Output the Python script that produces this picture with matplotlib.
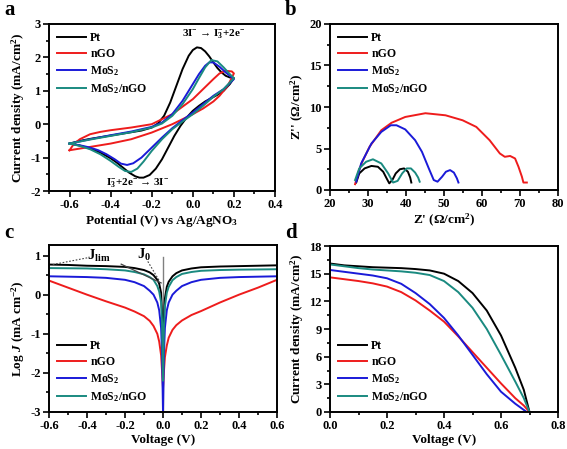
import numpy as np
import matplotlib
matplotlib.use("Agg")
import matplotlib.pyplot as plt
from matplotlib.ticker import MultipleLocator

plt.rcParams['font.family'] = ['Liberation Serif', 'DejaVu Serif']
plt.rcParams['font.weight'] = 'bold'
plt.rcParams['axes.labelweight'] = 'bold'
plt.rcParams['mathtext.fontset'] = 'custom'
plt.rcParams['mathtext.rm'] = 'Liberation Serif:bold'
plt.rcParams['mathtext.bf'] = 'Liberation Serif:bold'
plt.rcParams['mathtext.it'] = 'Liberation Serif:italic:bold'

names = ['Pt', 'nGO', 'MoS$_2$', 'MoS$_2$/nGO']
colors = ['black', '#ee1c1c', '#1a1ad8', '#1a8a80']

# (a) cyclic voltammetry, each loop: forward branch then reverse branch
cv_pt_x = [-0.6, -0.55, -0.5, -0.45, -0.4, -0.35, -0.3, -0.25, -0.2, -0.17, -0.14, -0.11, -0.08, -0.05, -0.02,
           0.0, 0.02, 0.04, 0.06, 0.08, 0.1, 0.12, 0.14, 0.16, 0.18, 0.2,
           0.18, 0.15, 0.12, 0.09, 0.06, 0.03, 0.0, -0.03, -0.06, -0.09, -0.12, -0.15, -0.18, -0.21, -0.24,
           -0.26, -0.28, -0.31, -0.34, -0.37, -0.4, -0.45, -0.5, -0.55, -0.6]
cv_pt_y = [-0.58, -0.5, -0.44, -0.39, -0.34, -0.29, -0.24, -0.19, -0.1, 0.02, 0.25, 0.65, 1.15, 1.65, 2.05,
           2.22, 2.3, 2.28, 2.18, 2.03, 1.85, 1.68, 1.55, 1.45, 1.4, 1.38,
           1.2, 1.0, 0.88, 0.78, 0.68, 0.55, 0.4, 0.2, -0.05, -0.35, -0.7, -1.05, -1.33, -1.52, -1.6,
           -1.6, -1.56, -1.45, -1.3, -1.15, -1.02, -0.85, -0.73, -0.64, -0.58]
cv_ngo_x = [-0.6, -0.58, -0.55, -0.5, -0.45, -0.4, -0.3, -0.2, -0.1, 0.0, 0.05, 0.1, 0.13, 0.16, 0.19, 0.2,
            0.17, 0.13, 0.1, 0.05, 0.0, -0.05, -0.1, -0.2, -0.3, -0.4, -0.5, -0.55, -0.6]
cv_ngo_y = [-0.78, -0.6, -0.45, -0.3, -0.23, -0.18, -0.1, 0.0, 0.3, 0.75, 1.05, 1.35, 1.52, 1.6, 1.58, 1.52,
            1.15, 0.85, 0.68, 0.47, 0.3, 0.15, 0.0, -0.25, -0.45, -0.58, -0.68, -0.73, -0.78]
cv_mos2_x = [-0.6, -0.5, -0.4, -0.3, -0.2, -0.15, -0.1, -0.05, 0.0, 0.03, 0.06, 0.08, 0.1, 0.13, 0.16, 0.2,
             0.15, 0.1, 0.05, 0.0, -0.05, -0.1, -0.15, -0.2, -0.25, -0.29, -0.32, -0.35, -0.38, -0.42, -0.46,
             -0.5, -0.55, -0.6]
cv_mos2_y = [-0.58, -0.45, -0.33, -0.22, -0.08, 0.05, 0.3, 0.7, 1.2, 1.5, 1.75, 1.85, 1.85, 1.72, 1.55, 1.35,
             1.05, 0.85, 0.6, 0.35, 0.12, -0.12, -0.4, -0.7, -1.0, -1.17, -1.22, -1.18, -1.05, -0.9, -0.78,
             -0.7, -0.63, -0.58]
cv_hyb_x = [-0.6, -0.5, -0.4, -0.3, -0.2, -0.15, -0.1, -0.05, 0.0, 0.03, 0.06, 0.09, 0.12, 0.15, 0.18, 0.2,
            0.15, 0.1, 0.05, 0.0, -0.05, -0.1, -0.15, -0.2, -0.24, -0.27, -0.3, -0.33, -0.36, -0.4, -0.45,
            -0.5, -0.55, -0.6]
cv_hyb_y = [-0.58, -0.46, -0.35, -0.24, -0.1, 0.02, 0.25, 0.6, 1.05, 1.38, 1.7, 1.92, 1.88, 1.7, 1.5, 1.38,
            1.05, 0.82, 0.55, 0.3, 0.08, -0.15, -0.45, -0.8, -1.12, -1.33, -1.43, -1.4, -1.28, -1.1, -0.9,
            -0.75, -0.65, -0.58]

# (b) Nyquist plots
eis_pt_x = [26.9, 27.7, 29.1, 30.9, 32.6, 34.0, 34.9, 35.6, 36.4, 37.3, 38.4, 39.5, 40.5, 41.1, 41.4]
eis_pt_y = [0.9, 2.0, 2.6, 2.9, 2.8, 2.2, 1.4, 0.8, 1.2, 2.0, 2.5, 2.6, 2.2, 1.5, 0.9]
eis_ngo_x = [26.6, 27.5, 28.5, 30.4, 33.5, 36.2, 39.8, 45.1, 50.4, 54.9, 58.5, 62.0, 64.7, 66.0, 67.4, 68.7,
             69.6, 70.5, 70.9, 71.8]
eis_ngo_y = [0.7, 2.2, 3.4, 5.2, 7.2, 8.1, 8.8, 9.25, 9.0, 8.4, 7.6, 6.0, 4.4, 4.0, 4.1, 3.8,
             2.8, 1.6, 0.9, 0.9]
eis_mos2_x = [26.9, 28.2, 30.9, 33.5, 36.0, 37.5, 39.8, 42.4, 44.2, 46.0, 47.3, 48.3, 49.5, 50.5, 51.6,
              52.6, 53.4, 53.8]
eis_mos2_y = [1.0, 3.2, 5.6, 7.0, 7.8, 7.8, 7.3, 6.0, 4.6, 2.6, 1.2, 1.0, 1.6, 2.2, 2.4, 2.1, 1.4, 0.9]
eis_hyb_x = [26.6, 27.7, 29.5, 31.3, 33.5, 35.3, 36.6, 37.8, 39.0, 40.2, 41.3, 42.4, 43.2, 43.6]
eis_hyb_y = [1.2, 2.6, 3.4, 3.7, 3.2, 2.0, 0.9, 1.1, 2.0, 2.6, 2.6, 2.1, 1.5, 1.0]

# (c) Tafel polarization
taf_v = [-0.6, -0.5, -0.4, -0.3, -0.2, -0.15, -0.1, -0.07, -0.05, -0.03, -0.02, -0.01, -0.005, 0.0,
         0.005, 0.01, 0.02, 0.03, 0.05, 0.07, 0.1, 0.15, 0.2, 0.3, 0.4, 0.5, 0.6]
taf_pt = [0.77, 0.76, 0.74, 0.73, 0.71, 0.68, 0.63, 0.57, 0.5, 0.38, 0.28, 0.05, -0.5, -2.0,
          -0.6, -0.1, 0.2, 0.33, 0.47, 0.55, 0.62, 0.67, 0.7, 0.72, 0.73, 0.74, 0.75]
taf_ngo = [0.36, 0.18, 0.0, -0.17, -0.33, -0.43, -0.55, -0.67, -0.8, -1.0, -1.2, -1.55, -1.95, -2.4,
           -1.95, -1.6, -1.3, -1.1, -0.9, -0.78, -0.66, -0.52, -0.42, -0.2, 0.0, 0.18, 0.38]
taf_mos2 = [0.47, 0.46, 0.45, 0.43, 0.38, 0.32, 0.22, 0.1, 0.0, -0.2, -0.4, -0.85, -1.5, -3.0,
            -1.5, -0.85, -0.4, -0.2, 0.0, 0.1, 0.22, 0.32, 0.38, 0.43, 0.45, 0.46, 0.47]
taf_hyb = [0.68, 0.675, 0.67, 0.65, 0.62, 0.58, 0.52, 0.45, 0.38, 0.22, 0.08, -0.2, -0.7, -2.2,
           -0.8, -0.3, 0.05, 0.2, 0.37, 0.45, 0.53, 0.58, 0.61, 0.63, 0.64, 0.645, 0.65]

# (d) J-V curves
jv_v = [0.0, 0.05, 0.1, 0.15, 0.2, 0.25, 0.3, 0.35, 0.4, 0.45, 0.5, 0.55, 0.6, 0.65, 0.68, 0.7]
jv_pt = [16.1, 15.9, 15.8, 15.7, 15.65, 15.6, 15.5, 15.35, 15.0, 14.2, 12.9, 11.0, 8.3, 4.8, 2.4, 0.0]
jv_hyb = [16.0, 15.8, 15.6, 15.45, 15.35, 15.25, 15.1, 14.85, 14.2, 13.0, 11.3, 9.0, 6.2, 3.3, 1.5, 0.0]
jv_mos2_v = [0.0, 0.05, 0.1, 0.15, 0.2, 0.25, 0.3, 0.35, 0.4, 0.45, 0.5, 0.55, 0.6, 0.65, 0.69]
jv_mos2 = [15.4, 15.2, 15.0, 14.8, 14.5, 13.9, 12.9, 11.7, 10.2, 8.3, 6.2, 4.1, 2.2, 0.9, 0.0]
jv_ngo = [14.6, 14.4, 14.2, 13.95, 13.6, 13.0, 12.1, 11.0, 9.8, 8.2, 6.5, 4.8, 3.1, 1.5, 0.7, 0.0]

fig = plt.figure(figsize=(5.67, 4.49), dpi=100)
W, H = 567.0, 449.0


def make_ax(l, t, r, b):
    return fig.add_axes([l / W, 1 - b / H, (r - l) / W, (b - t) / H])


def style(ax):
    for s in ax.spines.values():
        s.set_linewidth(1.4)
    ax.tick_params(which='both', direction='out', top=False, right=False, labelsize=9, width=1.2, pad=2)
    ax.tick_params(which='major', length=4)
    ax.tick_params(which='minor', length=2.5)
    for lab in ax.get_xticklabels() + ax.get_yticklabels():
        lab.set_fontweight('bold')


lw = 1.4
leg_kw = dict(frameon=False, fontsize=8.5, handlelength=2.4, labelspacing=0.35, handletextpad=0.4,
              borderaxespad=0.3)

# panel a
ax = make_ax(49, 24, 275, 191)
for (xs, ys), c, n in zip([(cv_pt_x, cv_pt_y), (cv_ngo_x, cv_ngo_y), (cv_mos2_x, cv_mos2_y), (cv_hyb_x, cv_hyb_y)],
                          colors, names):
    ax.plot(xs, ys, color=c, lw=lw, label=n)
ax.set_xlim(-0.7, 0.4)
ax.set_ylim(-2, 3)
ax.xaxis.set_major_locator(MultipleLocator(0.2))
ax.xaxis.set_minor_locator(MultipleLocator(0.1))
ax.yaxis.set_major_locator(MultipleLocator(1))
ax.yaxis.set_minor_locator(MultipleLocator(0.5))
ax.set_xticks([-0.6, -0.4, -0.2, 0.0, 0.2, 0.4])
ax.set_xticklabels(['-0.6', '-0.4', '-0.2', '0.0', '0.2', '0.4'])
ax.set_yticks([-2, -1, 0, 1, 2, 3])
ax.set_yticklabels(['-2', '-1', '0', '1', '2', '3'])
ax.set_xlabel('Potential (V) vs Ag/AgNO$_3$', fontsize=9.5, labelpad=1)
ax.set_ylabel('Current density (mA/cm$^2$)', fontsize=9.5, labelpad=2)
ax.text(0.1, 2.68, '3I$^{-}$ \u2192 I$_3^{-}$+2e$^{-}$', fontsize=8, ha='center', va='center')
ax.text(-0.27, -1.78, 'I$_3^{-}$+2e$^{-}$ \u2192 3I$^{-}$', fontsize=8, ha='center', va='center')
ax.legend(loc='upper left', **leg_kw)
style(ax)

# panel b
ax = make_ax(330, 24, 558, 190)
for (xs, ys), c, n in zip([(eis_pt_x, eis_pt_y), (eis_ngo_x, eis_ngo_y), (eis_mos2_x, eis_mos2_y),
                           (eis_hyb_x, eis_hyb_y)], colors, names):
    ax.plot(xs, ys, color=c, lw=lw, label=n)
ax.set_xlim(20, 80)
ax.set_ylim(0, 20)
ax.xaxis.set_major_locator(MultipleLocator(10))
ax.xaxis.set_minor_locator(MultipleLocator(5))
ax.yaxis.set_major_locator(MultipleLocator(5))
ax.yaxis.set_minor_locator(MultipleLocator(2.5))
ax.set_xlabel("Z' (\u03a9/cm$^2$)", fontsize=9.5, labelpad=1)
ax.set_ylabel("Z'' (\u03a9/cm$^2$)", fontsize=9.5, labelpad=2)
ax.legend(loc='upper left', **leg_kw)
style(ax)

# panel c
ax = make_ax(49, 245, 277, 412)
ax.plot([0, 0], [-3, 0.97], color='gray', lw=1.0)
for ys, c, n in zip([taf_pt, taf_ngo, taf_mos2, taf_hyb], colors, names):
    ax.plot(taf_v, ys, color=c, lw=lw, label=n)
ax.plot([-0.22, -0.01], [0.78, 0.3], color='#444444', lw=0.9)
ax.plot([-0.58, -0.39], [0.77, 0.95], color='#444444', lw=0.8, ls=(0, (1.5, 1.5)))
ax.plot([-0.08, -0.02], [0.85, 0.36], color='#444444', lw=0.8, ls=(0, (1.5, 1.5)))
ax.text(-0.34, 0.98, '$\\mathrm{J}_{\\mathrm{lim}}$', fontsize=10.5, ha='center', va='center')
ax.text(-0.1, 1.02, '$\\mathrm{J}_{0}$', fontsize=10.5, ha='center', va='center')
ax.set_xlim(-0.6, 0.6)
ax.set_ylim(-3, 1.27)
ax.xaxis.set_minor_locator(MultipleLocator(0.1))
ax.yaxis.set_minor_locator(MultipleLocator(0.5))
ax.set_xticks([-0.6, -0.4, -0.2, 0.0, 0.2, 0.4, 0.6])
ax.set_xticklabels(['-0.6', '-0.4', '-0.2', '0.0', '0.2', '0.4', '0.6'])
ax.set_yticks([-3, -2, -1, 0, 1])
ax.set_yticklabels(['-3', '-2', '-1', '0', '1'])
ax.set_xlabel('Voltage (V)', fontsize=9.5, labelpad=1)
ax.set_ylabel('Log $J$ (mA cm$^{-2}$)', fontsize=9.5, labelpad=2)
ax.legend(loc='lower left', **leg_kw)
style(ax)

# panel d
ax = make_ax(330, 246, 558, 412)
for xs, ys, c, n in zip([jv_v, jv_v, jv_mos2_v, jv_v], [jv_pt, jv_ngo, jv_mos2, jv_hyb], colors, names):
    ax.plot(xs, ys, color=c, lw=lw, label=n)
ax.set_xlim(0, 0.8)
ax.set_ylim(0, 18)
ax.xaxis.set_minor_locator(MultipleLocator(0.1))
ax.yaxis.set_major_locator(MultipleLocator(3))
ax.yaxis.set_minor_locator(MultipleLocator(1.5))
ax.set_xticks([0.0, 0.2, 0.4, 0.6, 0.8])
ax.set_xticklabels(['0.0', '0.2', '0.4', '0.6', '0.8'])
ax.set_xlabel('Voltage (V)', fontsize=9.5, labelpad=1)
ax.set_ylabel('Current density (mA/cm$^2$)', fontsize=9.5, labelpad=2)
ax.legend(loc='lower left', **leg_kw)
style(ax)

for lab, x, y in [('a', 4, 10), ('b', 285, 10), ('c', 4, 233), ('d', 285, 233)]:
    fig.text(x / W, 1 - y / H, lab, fontsize=15, fontweight='bold', ha='left', va='center')

fig.savefig('out.png', dpi=100)
